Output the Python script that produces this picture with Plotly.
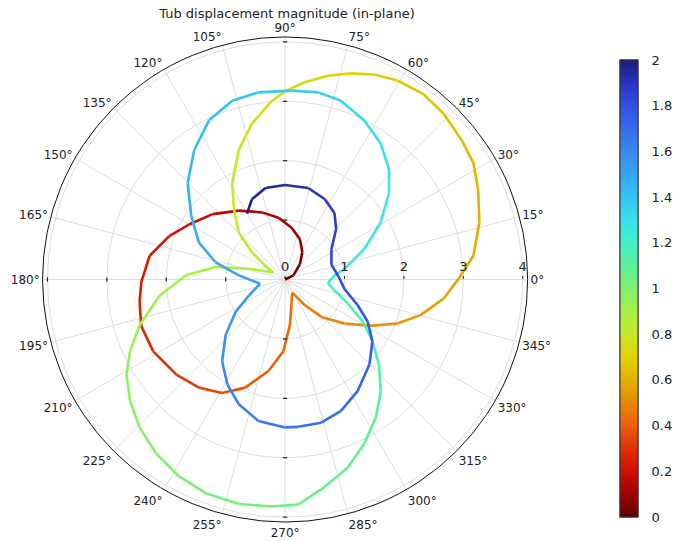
import numpy as np
import plotly.graph_objects as go
from plotly.colors import sample_colorscale

# In-plane tub displacement components (u, v) and the time parameter t
u = [0.00, 0.14, 0.25, 0.29, 0.25, 0.11, -0.11, -0.39, -0.78, -1.22,
     -1.61, -1.95, -2.28, -2.42, -2.45, -2.42, -2.22, -1.83, -1.45, -1.06,
     -0.67, -0.28, -0.03, 0.08, 0.11, 0.12, 0.33, 0.61, 1.00, 1.44,
     1.89, 2.28, 2.67, 2.92, 3.17, 3.27, 3.25, 3.17, 2.97, 2.67,
     2.33, 1.89, 1.50, 1.11, 0.72, 0.33, 0.02, -0.22, -0.56, -0.78,
     -0.89, -0.86, -0.78, -0.56, -0.33, -0.20, -0.61, -1.17, -1.67, -2.11,
     -2.45, -2.61, -2.67, -2.61, -2.45, -2.17, -1.78, -1.33, -0.78, -0.22,
     0.22, 0.67, 1.06, 1.33, 1.53, 1.61, 1.58, 1.47, 1.31, 1.06,
     0.83, 0.72, 0.83, 1.00, 1.33, 1.61, 1.75, 1.75, 1.61, 1.33,
     0.94, 0.56, 0.11, -0.45, -0.89, -1.28, -1.53, -1.64, -1.58, -1.45,
     -1.17, -0.78, -0.42, -0.61, -0.83, -1.00, -1.06, -0.97, -0.78, -0.45,
     0.00, 0.22, 0.61, 0.94, 1.22, 1.42, 1.47, 1.39, 1.22, 1.00,
     0.90, 0.78, 0.78, 0.86, 0.83, 0.67, 0.39, 0.00, -0.33, -0.56,
     -0.64]
v = [0.00, 0.07, 0.26, 0.46, 0.68, 0.87, 1.04, 1.13, 1.16, 1.10,
     0.93, 0.73, 0.40, -0.04, -0.38, -0.79, -1.21, -1.60, -1.82, -1.91,
     -1.82, -1.54, -1.21, -0.77, -0.38, -0.22, -0.43, -0.63, -0.74, -0.78,
     -0.74, -0.60, -0.32, 0.01, 0.40, 0.96, 1.51, 1.96, 2.35, 2.79,
     3.12, 3.35, 3.45, 3.47, 3.43, 3.32, 3.18, 3.01, 2.62, 2.18,
     1.62, 1.18, 0.79, 0.46, 0.23, 0.12, 0.18, 0.21, 0.07, -0.27,
     -0.77, -1.21, -1.60, -2.04, -2.49, -2.93, -3.32, -3.60, -3.78, -3.82,
     -3.79, -3.49, -3.16, -2.77, -2.32, -1.88, -1.43, -1.04, -0.71, -0.41,
     -0.18, -0.06, 0.07, 0.18, 0.51, 0.96, 1.46, 1.85, 2.29, 2.68,
     3.01, 3.15, 3.18, 3.15, 3.01, 2.68, 2.18, 1.62, 1.07, 0.62,
     0.29, 0.07, -0.07, -0.27, -0.54, -0.93, -1.38, -1.77, -2.10, -2.38,
     -2.49, -2.48, -2.41, -2.21, -1.88, -1.43, -1.04, -0.71, -0.43, -0.16,
     0.05, 0.25, 0.51, 0.85, 1.12, 1.35, 1.54, 1.59, 1.54, 1.35,
     1.11]
t = [0.000, 0.020, 0.040, 0.060, 0.080, 0.100, 0.120, 0.135, 0.150, 0.170,
     0.190, 0.205, 0.225, 0.240, 0.250, 0.265, 0.285, 0.310, 0.335, 0.360,
     0.380, 0.400, 0.415, 0.430, 0.440, 0.450, 0.465, 0.480, 0.500, 0.515,
     0.530, 0.545, 0.560, 0.570, 0.585, 0.600, 0.615, 0.625, 0.635, 0.650,
     0.660, 0.675, 0.685, 0.700, 0.710, 0.720, 0.730, 0.740, 0.750, 0.765,
     0.785, 0.800, 0.815, 0.830, 0.845, 0.860, 0.870, 0.885, 0.900, 0.915,
     0.930, 0.945, 0.960, 0.970, 0.980, 0.995, 1.005, 1.015, 1.030, 1.040,
     1.050, 1.065, 1.080, 1.090, 1.105, 1.120, 1.135, 1.150, 1.160, 1.175,
     1.190, 1.200, 1.210, 1.220, 1.240, 1.255, 1.275, 1.290, 1.305, 1.320,
     1.340, 1.355, 1.375, 1.390, 1.405, 1.420, 1.435, 1.455, 1.470, 1.480,
     1.495, 1.510, 1.520, 1.535, 1.550, 1.565, 1.585, 1.600, 1.620, 1.640,
     1.660, 1.670, 1.690, 1.705, 1.720, 1.740, 1.755, 1.770, 1.785, 1.800,
     1.815, 1.830, 1.845, 1.860, 1.875, 1.890, 1.910, 1.935, 1.955, 1.975,
     2.000]

radial_ticks = [0, 1, 2, 3, 4]
angle_ticks = list(range(0, 360, 15))
cbar_ticks = [0, 0.2, 0.4, 0.6, 0.8, 1, 1.2, 1.4, 1.6, 1.8, 2]
t_min, t_max = 0, 2

# Rainbow colour table (dark red at 0 -> dark blue at 2)
rainbow = [
    [0.00, "#600000"], [0.05, "#a00000"], [0.10, "#d01000"], [0.15, "#e03000"],
    [0.20, "#e86010"], [0.25, "#e88800"], [0.30, "#e4b000"], [0.35, "#e0d400"],
    [0.40, "#c8e828"], [0.45, "#a8f048"], [0.50, "#80f070"], [0.55, "#5ef09c"],
    [0.60, "#44f0c8"], [0.65, "#38e0ec"], [0.70, "#34c4f4"], [0.75, "#38a4f4"],
    [0.80, "#3a88f0"], [0.85, "#366cec"], [0.90, "#3050e4"], [0.95, "#2832c0"],
    [1.00, "#1e1e78"],
]

uu = np.array(u)
vv = np.array(v)
tt = np.array(t)
r = np.hypot(uu, vv)
theta = np.degrees(np.arctan2(vv, uu)) % 360

fig = go.Figure()

# Path drawn piecewise so every segment carries the colour of its time
for i in range(len(tt) - 1):
    tm = 0.5 * (tt[i] + tt[i + 1])
    col = sample_colorscale(rainbow, [(tm - t_min) / (t_max - t_min)])[0]
    fig.add_trace(go.Scatterpolar(
        r=[r[i], r[i + 1]], theta=[theta[i], theta[i + 1]],
        mode="lines", line=dict(color=col, width=2.6),
        showlegend=False, hoverinfo="skip"))

# Colour legend: one bar carries the inner tick marks, a second identical
# bar on top carries the labels, set a little further out
cb_common = dict(
    x=624 / 674, xanchor="left", xpad=0,
    y=(541 - 288.5) / 541, yanchor="middle", ypad=0,
    len=457 / 541, lenmode="fraction", thickness=18,
    outlinewidth=1, outlinecolor="#333",
    tickmode="array", tickvals=cbar_ticks,
)
for with_labels in (False, True):
    cb = dict(cb_common)
    if with_labels:
        cb.update(ticks="outside", ticklen=11, tickcolor="rgba(0,0,0,0)",
                  ticktext=[f"{c:g}" for c in cbar_ticks],
                  tickfont=dict(family="DejaVu Sans", size=13, color="#222"))
    else:
        cb.update(ticks="inside", ticklen=4, tickcolor="#111",
                  showticklabels=False)
    fig.add_trace(go.Scatterpolar(
        r=r, theta=theta, mode="markers",
        marker=dict(size=1, opacity=0, color=tt, colorscale=rainbow,
                    cmin=t_min, cmax=t_max, showscale=True, colorbar=cb),
        showlegend=False, hoverinfo="skip"))

# Small radial tick marks on the 90/180/270 degree spokes
spoke_r, spoke_th, spoke_sym = [], [], []
for ang in (90, 180, 270):
    for rv in radial_ticks[1:]:
        spoke_r.append(rv)
        spoke_th.append(ang)
        spoke_sym.append("line-ns" if ang == 180 else "line-ew")
fig.add_trace(go.Scatterpolar(
    r=spoke_r, theta=spoke_th, mode="markers",
    marker=dict(symbol=spoke_sym, size=3, color="#222",
                line=dict(color="#222", width=1.2)),
    showlegend=False, hoverinfo="skip"))

# Polar disc geometry in pixels
cx, cy, rad = 286.8, 279.5, 244.0

fig.update_layout(
    width=674, height=541,
    margin=dict(l=0, r=0, t=0, b=0),
    paper_bgcolor="white",
    font=dict(family="DejaVu Sans", size=13, color="#222"),
    title=dict(text="Tub displacement magnitude (in-plane)",
               x=287 / 674, xanchor="center", y=1 - 13 / 541, yanchor="middle",
               font=dict(family="DejaVu Sans", size=13, color="#222")),
    polar=dict(
        domain=dict(x=[(cx - rad) / 674, (cx + rad) / 674],
                    y=[(541 - cy - rad) / 541, (541 - cy + rad) / 541]),
        bgcolor="white",
        radialaxis=dict(
            range=[0, 4.083], tickmode="array", tickvals=radial_ticks,
            ticktext=[str(x) for x in radial_ticks],
            angle=0, tickangle=0, side="counterclockwise",
            showline=False, ticks="outside", ticklen=3, tickcolor="#222",
            gridcolor="#dddddd", gridwidth=1,
            tickfont=dict(family="DejaVu Sans", size=13, color="#222")),
        angularaxis=dict(
            tickmode="array", tickvals=angle_ticks,
            ticktext=[f"{a}°" for a in angle_ticks],
            direction="counterclockwise", rotation=0,
            showline=True, linecolor="#111", linewidth=1,
            ticks="", gridcolor="#dddddd", gridwidth=1,
            tickfont=dict(family="DejaVu Sans", size=12, color="#222")),
    ),
)

fig.write_html("out.html")
